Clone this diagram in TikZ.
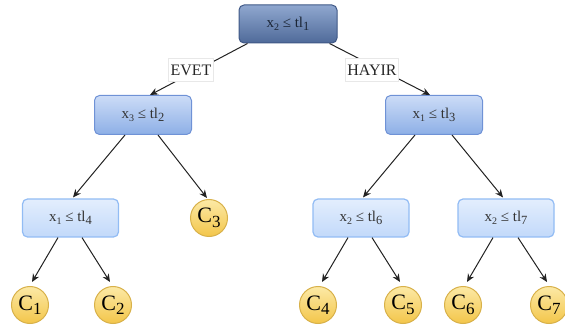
\documentclass[tikz,border=0pt]{standalone}
\usepackage{fontspec}
\setmainfont{Liberation Serif}
\usetikzlibrary{arrows.meta,calc}
\newcommand{\sbx}[1]{\raisebox{-0.3ex}{\fontsize{10}{10}\selectfont #1}}
\newcommand{\sbt}[1]{\raisebox{-0.35ex}{\fontsize{12.5}{12.5}\selectfont #1}}
\newcommand{\cc}[1]{C\raisebox{-0.45ex}{\fontsize{17}{17}\selectfont #1}}
\definecolor{edgec}{HTML}{222222}
\tikzset{
  x=1pt, y=-1pt,
  rootbox/.style={line width=1pt, rounded corners=5pt, minimum width=98pt, minimum height=38pt,
    top color=rootTop, bottom color=rootBot, draw=rootBd, text=rootTx, font=\fontsize{15}{15}\selectfont, inner sep=0pt},
  midbox/.style={line width=1pt, rounded corners=5pt, minimum width=97pt, minimum height=39pt,
    top color=midTop, bottom color=midBot, draw=midBd, text=boxTx, font=\fontsize{15}{15}\selectfont, inner sep=0pt},
  lowbox/.style={line width=1.2pt, rounded corners=5pt, minimum width=96pt, minimum height=38pt,
    top color=lowTop, bottom color=lowBot, draw=lowBd, text=boxTx, font=\fontsize{15}{15}\selectfont, inner sep=0pt},
  leaf/.style={circle, line width=1pt, minimum size=37pt, inner sep=0pt,
    top color=leafTop, bottom color=leafBot, draw=leafBd, text=black, font=\fontsize{22}{22}\selectfont},
  edgelabel/.style={fill=white, draw=black!9, line width=0.4pt, inner sep=2pt, minimum height=23pt,
    font=\fontsize{16}{16}\selectfont, text=black!85},
  arr/.style={draw=edgec, line width=1pt, -{Stealth[length=8pt,width=7pt]}}
}
\definecolor{rootTop}{HTML}{8FA7CF}
\definecolor{rootBot}{HTML}{4F6A99}
\definecolor{rootBd}{HTML}{3F5886}
\definecolor{rootTx}{HTML}{1B2535}
\definecolor{midTop}{HTML}{CCDCF7}
\definecolor{midBot}{HTML}{8DAFE6}
\definecolor{midBd}{HTML}{6F92D6}
\definecolor{lowTop}{HTML}{E3EEFD}
\definecolor{lowBot}{HTML}{C2D9FA}
\definecolor{lowBd}{HTML}{92BCF4}
\definecolor{boxTx}{HTML}{333333}
\definecolor{leafTop}{HTML}{FCE9A6}
\definecolor{leafBot}{HTML}{F3C64A}
\definecolor{leafBd}{HTML}{D8B14A}
\begin{document}
\begin{tikzpicture}
\useasboundingbox (0,0) rectangle (565,331);
% nodes
\node[rootbox] (n1) at (288,24) {x\sbx{2} ≤ tl\sbt{1}};
\node[midbox] (n2) at (143,115) {x\sbx{3} ≤ tl\sbt{2}};
\node[midbox] (n3) at (434,115) {x\sbx{1} ≤ tl\sbt{3}};
\node[lowbox] (n4) at (70.5,218) {x\sbx{1} ≤ tl\sbt{4}};
\node[lowbox] (n6) at (361,218) {x\sbx{2} ≤ tl\sbt{6}};
\node[lowbox] (n7) at (506,218) {x\sbx{2} ≤ tl\sbt{7}};
\node[leaf] (c3) at (209,218) {\cc{3}};
\node[leaf] (c1) at (30,305) {\cc{1}};
\node[leaf] (c2) at (113,305) {\cc{2}};
\node[leaf] (c4) at (318,305) {\cc{4}};
\node[leaf] (c5) at (403,305) {\cc{5}};
\node[leaf] (c6) at (463,305) {\cc{6}};
\node[leaf] (c7) at (549,305) {\cc{7}};
% top edges with labels
\draw[arr] ($(n1.south west)+(9,0)$) -- ($(n2.north)+(7,0)$);
\draw[arr] ($(n1.south east)+(-8,0)$) -- ($(n3.north)+(-4,0)$);
\node[edgelabel] (evet) at (191,70) {EVET};
\node[edgelabel] (hayir) at (372,70) {HAYIR};
% level 2 -> 3
\draw[arr] ($(n2.south)+(-18,0)$) -- ($(n4.north)+(2.5,-1)$);
\draw[arr] ($(n2.south)+(15,0)$) -- ($(c3.north)+(-2,-1)$);
\draw[arr] ($(n3.south)+(-19,0)$) -- ($(n6.north)+(2,-1)$);
\draw[arr] ($(n3.south)+(18,0)$) -- ($(n7.north)+(-3,-1)$);
% level 3 -> leaves
\draw[arr] ($(n4.south)+(-12.5,0)$) -- ($(c1.north)+(2,-4)$);
\draw[arr] ($(n4.south)+(11.5,0)$) -- ($(c2.north)+(-3,-4)$);
\draw[arr] ($(n6.south)+(-13,0)$) -- ($(c4.north)+(4,-4)$);
\draw[arr] ($(n6.south)+(11,0)$) -- ($(c5.north)+(-3,-4)$);
\draw[arr] ($(n7.south)+(-13,0)$) -- ($(c6.north)+(4,-4)$);
\draw[arr] ($(n7.south)+(12,0)$) -- ($(c7.north)+(-2,-4)$);
\end{tikzpicture}
\end{document}
